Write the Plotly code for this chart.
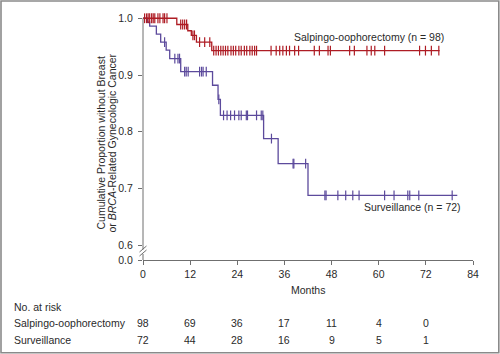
import plotly.graph_objects as go

# ---------------- data ----------------
so_event_t = [8.6, 11.4, 12.3, 13.6, 17.5]
so_event_s = [0.989, 0.978, 0.970, 0.958, 0.943]
so_censor_t = [0.4, 0.9, 1.3, 1.7, 2.2, 2.6, 3.0, 3.8, 4.3, 5.1, 5.5, 6.1,
               9.6, 10.1, 10.6, 11.1, 12.7, 13.1, 14.4, 15.7, 17.0,
               18.0, 18.6, 19.2, 19.8, 20.4, 21.0, 21.6, 22.4, 23.0, 23.6, 24.4, 25.0,
               25.8, 26.4, 27.2, 27.8, 28.4, 28.9, 32.6, 33.9, 34.8, 35.6, 36.5, 37.3,
               38.6, 39.6, 43.6, 44.9, 47.1, 47.7, 52.6, 53.8, 57.0, 58.1, 59.0, 61.5,
               70.4, 71.9, 73.4, 75.3]
so_end = 75.5

sv_event_t = [1.1, 1.7, 3.4, 4.5, 5.9, 6.8, 9.6, 17.7, 19.1, 19.7, 30.7, 34.4, 42.0]
sv_event_s = [0.993, 0.986, 0.972, 0.958, 0.944, 0.929, 0.906, 0.882, 0.857, 0.829,
              0.788, 0.744, 0.688]
sv_censor_t = [5.5, 8.1, 8.9, 9.3, 10.6, 11.0, 11.5, 14.4, 14.9, 15.3, 16.1, 19.3,
               20.5, 21.4, 22.3, 23.3, 24.4, 25.0, 26.3, 26.6, 28.9, 30.1, 30.5, 32.7,
               38.2, 38.4, 41.4, 46.3, 46.6, 49.6, 51.6, 53.4, 55.0, 61.5, 63.9, 67.4,
               67.9, 70.2, 78.7]
sv_end = 80.0

risk_times = [0, 12, 24, 36, 48, 60, 72]
risk_so = [98, 69, 36, 17, 11, 4, 0]
risk_sv = [72, 44, 28, 16, 9, 5, 1]

x_ticks = [0, 12, 24, 36, 48, 60, 72, 84]
y_ticks = [0.5742, 0.6, 0.7, 0.8, 0.9, 1.0]
y_ticktext = ["0.0", "0.6", "0.7", "0.8", "0.9", "1.0"]

RED = "#AE1C24"
PURPLE = "#5C4A9C"
AXIS = "#6f6f6f"
TXT = "#2a2a2a"
FONT = "Liberation Sans, Arial, sans-serif"
FS = 10.5


def surv_at(t, ev_t, ev_s):
    s = 1.0
    for et, es in zip(ev_t, ev_s):
        if et <= t:
            s = es
    return s


def curve(ev_t, ev_s, end):
    xs = [0] + list(ev_t) + [end]
    ys = [1.0] + list(ev_s) + [ev_s[-1]]
    return xs, ys


fig = go.Figure()
for ev_t, ev_s, cen, end, col in [
    (sv_event_t, sv_event_s, sv_censor_t, sv_end, PURPLE),
    (so_event_t, so_event_s, so_censor_t, so_end, RED),
]:
    xs, ys = curve(ev_t, ev_s, end)
    fig.add_trace(go.Scatter(x=xs, y=ys, mode="lines", line=dict(color=col, width=1.3, shape="hv"),
                             showlegend=False, hoverinfo="skip"))
    fig.add_trace(go.Scatter(x=cen, y=[surv_at(t, ev_t, ev_s) for t in cen], mode="markers",
                             marker=dict(symbol="line-ns", size=7, line=dict(color=col, width=1.2)),
                             showlegend=False, cliponaxis=False, hoverinfo="skip"))

L, R, T, B = 143, 27, 16, 94
W, H = 500, 354
PW = W - L - R
PH = H - T - B


def px(xp):
    return (xp - L) / PW


def py(yp):
    return (H - B - yp) / PH


shapes = []
# y-axis line with break
shapes.append(dict(type="line", xref="paper", yref="y", x0=0, x1=0, y0=1.0, y1=0.6,
                   line=dict(color=AXIS, width=1)))
shapes.append(dict(type="line", xref="paper", yref="paper", x0=0, x1=0, y0=py(245.3), y1=py(249.5),
                   line=dict(color=AXIS, width=1)))
shapes.append(dict(type="line", xref="paper", yref="paper", x0=0, x1=0, y0=py(254), y1=py(260),
                   line=dict(color=AXIS, width=1)))
for dy in (0, 4):
    shapes.append(dict(type="line", xref="paper", yref="paper",
                       x0=px(139.5), y0=py(252 + dy), x1=px(146.5), y1=py(246 + dy),
                       line=dict(color=AXIS, width=1)))
# outer frame
shapes.append(dict(type="rect", xref="paper", yref="paper",
                   x0=px(1), x1=px(498.8), y0=py(352.8), y1=py(1),
                   line=dict(color="#8a8a8a", width=1.6)))

ann = []
ann.append(dict(x=38.0, y=0.9665, xref="x", yref="y", text="Salpingo-oophorectomy (n = 98)",
                showarrow=False, xanchor="left", yanchor="middle", font=dict(size=FS, color=TXT, family=FONT)))
ann.append(dict(x=55.8, y=0.667, xref="x", yref="y", text="Surveillance (n = 72)",
                showarrow=False, xanchor="left", yanchor="middle", font=dict(size=FS, color=TXT, family=FONT)))
ann.append(dict(x=px(100.5), y=py(143), xref="paper", yref="paper",
                text="Cumulative Proportion without Breast", textangle=-90,
                showarrow=False, xanchor="center", yanchor="middle", font=dict(size=FS, color=TXT, family=FONT)))
ann.append(dict(x=px(111.5), y=py(143), xref="paper", yref="paper",
                text="or <i>BRCA</i>-Related Gynecologic Cancer", textangle=-90,
                showarrow=False, xanchor="center", yanchor="middle", font=dict(size=FS, color=TXT, family=FONT)))
ann.append(dict(x=0.5, y=py(289.5), xref="paper", yref="paper", text="Months",
                showarrow=False, xanchor="center", yanchor="middle", font=dict(size=FS, color=TXT, family=FONT)))
ann.append(dict(x=px(12), y=py(306.5), xref="paper", yref="paper", text="No. at risk",
                showarrow=False, xanchor="left", yanchor="middle", font=dict(size=FS, color=TXT, family=FONT)))
ann.append(dict(x=px(12), y=py(322.5), xref="paper", yref="paper", text="Salpingo-oophorectomy",
                showarrow=False, xanchor="left", yanchor="middle", font=dict(size=FS, color=TXT, family=FONT)))
ann.append(dict(x=px(12), y=py(340), xref="paper", yref="paper", text="Surveillance",
                showarrow=False, xanchor="left", yanchor="middle", font=dict(size=FS, color=TXT, family=FONT)))
for t, a, b in zip(risk_times, risk_so, risk_sv):
    ann.append(dict(x=t, y=py(322.5), xref="x", yref="paper", text=str(a), showarrow=False,
                    xanchor="center", yanchor="middle", font=dict(size=FS, color=TXT, family=FONT)))
    ann.append(dict(x=t, y=py(340), xref="x", yref="paper", text=str(b), showarrow=False,
                    xanchor="center", yanchor="middle", font=dict(size=FS, color=TXT, family=FONT)))

fig.update_layout(
    width=W, height=H, margin=dict(l=L, r=R, t=T, b=B),
    paper_bgcolor="white", plot_bgcolor="white",
    font=dict(family=FONT, size=FS, color=TXT),
    shapes=shapes, annotations=ann, showlegend=False,
    xaxis=dict(range=[0, 84], tickvals=x_ticks, ticks="outside", ticklen=4, tickcolor=AXIS,
               showline=True, linecolor=AXIS, linewidth=1, showgrid=False, zeroline=False,
               tickfont=dict(size=FS, color=TXT, family=FONT)),
    yaxis=dict(range=[0.5742, 1.004], tickvals=y_ticks, ticktext=y_ticktext, ticks="outside",
               ticklen=4, tickcolor=AXIS, showline=False, showgrid=False, zeroline=False,
               ticklabelstandoff=3, tickfont=dict(size=FS, color=TXT, family=FONT)),
)

fig.write_html("out.html")
